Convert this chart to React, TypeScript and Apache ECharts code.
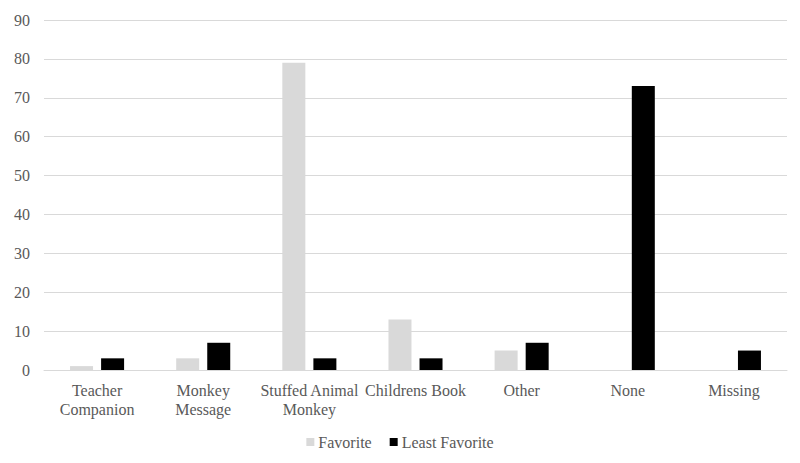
import React, { useEffect, useRef } from "react";
import * as echarts from "echarts";

const categories = [
  "Teacher\nCompanion",
  "Monkey\nMessage",
  "Stuffed Animal\nMonkey",
  "Childrens Book",
  "Other",
  "None",
  "Missing",
];
const favorite = [1, 3, 79, 13, 5, 0, 0];
const leastFavorite = [3, 7, 3, 3, 7, 73, 5];
const seriesNames = ["Favorite", "Least Favorite"];

export default function App() {
  const ref = useRef<HTMLDivElement>(null);
  useEffect(() => {
    if (!ref.current) return;
    const chart = echarts.init(ref.current, null, { renderer: "svg" });
    const font = "'Liberation Serif', 'Times New Roman', serif";
    chart.setOption({
      animation: false,
      textStyle: { fontFamily: font },
      grid: { left: 44, right: 13, top: 20, bottom: 93, containLabel: false },
      legend: {
        bottom: 8,
        left: "center",
        itemWidth: 8,
        itemHeight: 8,
        itemGap: 18,
        icon: "rect",
        textStyle: { fontFamily: font, fontSize: 16, color: "#595959", padding: [0, 0, 0, -1] },
        data: seriesNames,
      },
      xAxis: {
        type: "category",
        data: categories,
        axisLine: { lineStyle: { color: "#d9d9d9", width: 1 } },
        axisTick: { show: false },
        axisLabel: {
          fontFamily: font,
          fontSize: 16,
          color: "#595959",
          interval: 0,
          margin: 11,
          lineHeight: 19,
        },
      },
      yAxis: {
        type: "value",
        min: 0,
        max: 90,
        interval: 10,
        axisLine: { show: false },
        axisTick: { show: false },
        splitLine: { lineStyle: { color: "#d9d9d9", width: 1 } },
        axisLabel: { fontFamily: font, fontSize: 16, color: "#595959", margin: 14 },
      },
      series: [
        {
          name: seriesNames[0],
          type: "bar",
          data: favorite,
          itemStyle: { color: "#d9d9d9" },
          barWidth: 23,
          barGap: "35%",
        },
        {
          name: seriesNames[1],
          type: "bar",
          data: leastFavorite,
          itemStyle: { color: "#000000" },
          barWidth: 23,
          barGap: "35%",
        },
      ],
    });
    return () => chart.dispose();
  }, []);
  return <div ref={ref} style={{ width: 800, height: 463, margin: -8 }} />;
}
